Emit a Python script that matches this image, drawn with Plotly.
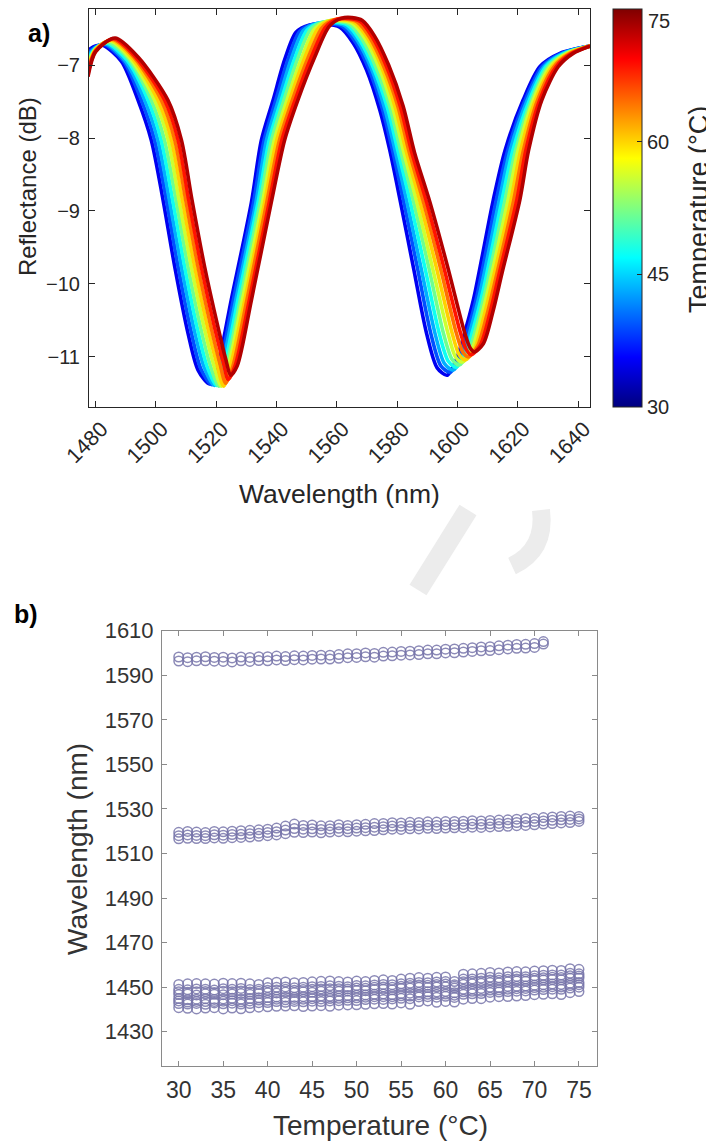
import plotly.graph_objects as go
from plotly.colors import sample_colorscale

# the page body adds an 8 px margin, so the figure is drawn 8 px smaller and
# every position below is given in page pixels and shifted back by OFF
W, H = 714, 1146
OFF = 8
FW, FH = W - OFF, H - OFF
FONT = "Liberation Sans, Arial, sans-serif"

# ---- a) reflection spectra (one curve every 5 °C) ----
SPEC_TEMPS = [30, 35, 40, 45, 50, 55, 60, 65, 70, 75]

WL_30 = [1477.5, 1480.0, 1482.5, 1488.6, 1494.1, 1498.5, 1502.4, 1506.3, 1510.7, 1514.0, 1517.8, 1520.5, 1525.0, 1531.7, 1535.0, 1538.9, 1542.7, 1546.5, 1551.0, 1556.0, 1561.0, 1565.5, 1569.9, 1574.3, 1577.6, 1581.0, 1585.4, 1589.8, 1593.3, 1596.6, 1599.8, 1602.0, 1605.3, 1611.9, 1615.8, 1621.8, 1627.4, 1634.0, 1644.0]
DB_30 = [-6.80, -6.74, -6.73, -6.95, -7.48, -8.03, -8.85, -9.77, -10.68, -11.18, -11.37, -11.12, -10.22, -8.88, -8.03, -7.48, -6.93, -6.55, -6.45, -6.44, -6.48, -6.70, -7.07, -7.62, -8.17, -8.85, -9.77, -10.68, -11.15, -11.25, -11.02, -10.73, -10.22, -8.85, -8.17, -7.48, -7.02, -6.84, -6.74]

WL_35 = [1477.5, 1480.0, 1482.9, 1489.2, 1495.2, 1499.6, 1503.5, 1507.4, 1511.8, 1515.0, 1518.6, 1521.2, 1525.7, 1532.4, 1535.9, 1539.8, 1543.8, 1547.7, 1552.2, 1557.0, 1561.8, 1566.3, 1570.7, 1575.2, 1578.5, 1582.1, 1586.7, 1591.2, 1594.5, 1597.6, 1600.8, 1603.1, 1606.4, 1612.9, 1616.7, 1622.5, 1628.1, 1634.5, 1644.0]
DB_35 = [-6.84, -6.75, -6.72, -6.94, -7.48, -8.03, -8.85, -9.77, -10.67, -11.17, -11.38, -11.12, -10.22, -8.88, -8.03, -7.48, -6.93, -6.54, -6.44, -6.43, -6.47, -6.69, -7.06, -7.61, -8.17, -8.85, -9.77, -10.68, -11.12, -11.21, -11.00, -10.69, -10.18, -8.85, -8.17, -7.48, -7.02, -6.84, -6.74]

WL_40 = [1477.5, 1480.0, 1483.4, 1489.8, 1496.3, 1500.7, 1504.5, 1508.5, 1512.9, 1516.1, 1519.4, 1521.9, 1526.5, 1533.2, 1536.7, 1540.7, 1544.9, 1548.9, 1553.3, 1558.0, 1562.7, 1567.1, 1571.5, 1576.0, 1579.4, 1583.2, 1587.9, 1592.6, 1595.7, 1598.6, 1601.8, 1604.2, 1607.4, 1613.9, 1617.5, 1623.2, 1628.8, 1635.0, 1644.0]
DB_40 = [-6.88, -6.76, -6.71, -6.94, -7.48, -8.03, -8.85, -9.77, -10.66, -11.15, -11.39, -11.12, -10.22, -8.88, -8.03, -7.48, -6.92, -6.53, -6.43, -6.42, -6.46, -6.68, -7.05, -7.61, -8.18, -8.86, -9.77, -10.68, -11.09, -11.18, -10.98, -10.65, -10.14, -8.85, -8.17, -7.48, -7.02, -6.84, -6.74]

WL_45 = [1477.5, 1480.0, 1483.8, 1490.4, 1497.4, 1501.8, 1505.6, 1509.6, 1514.0, 1517.1, 1520.1, 1522.7, 1527.2, 1533.9, 1537.6, 1541.6, 1546.0, 1550.2, 1554.5, 1559.0, 1563.5, 1567.8, 1572.3, 1576.9, 1580.3, 1584.3, 1589.2, 1594.0, 1597.0, 1599.6, 1602.7, 1605.3, 1608.5, 1614.8, 1618.4, 1623.9, 1629.4, 1635.5, 1644.0]
DB_45 = [-6.92, -6.77, -6.70, -6.93, -7.48, -8.03, -8.85, -9.77, -10.65, -11.14, -11.39, -11.12, -10.22, -8.88, -8.03, -7.48, -6.92, -6.52, -6.42, -6.41, -6.45, -6.67, -7.05, -7.60, -8.18, -8.86, -9.77, -10.68, -11.06, -11.14, -10.95, -10.61, -10.10, -8.85, -8.17, -7.48, -7.02, -6.84, -6.74]

WL_50 = [1477.5, 1480.0, 1484.3, 1491.0, 1498.5, 1502.9, 1506.7, 1510.7, 1515.1, 1518.1, 1520.9, 1523.4, 1528.0, 1534.6, 1538.4, 1542.5, 1547.1, 1551.4, 1555.7, 1560.0, 1564.3, 1568.6, 1573.1, 1577.7, 1581.2, 1585.4, 1590.5, 1595.4, 1598.2, 1600.6, 1603.7, 1606.4, 1609.5, 1615.8, 1619.3, 1624.6, 1630.1, 1636.0, 1644.0]
DB_50 = [-6.96, -6.78, -6.69, -6.92, -7.48, -8.03, -8.85, -9.77, -10.64, -11.12, -11.40, -11.12, -10.22, -8.88, -8.03, -7.48, -6.91, -6.51, -6.41, -6.40, -6.44, -6.66, -7.04, -7.59, -8.18, -8.86, -9.77, -10.68, -11.03, -11.11, -10.93, -10.57, -10.06, -8.85, -8.17, -7.48, -7.02, -6.84, -6.74]

WL_55 = [1477.5, 1480.0, 1484.7, 1491.7, 1499.6, 1504.1, 1507.7, 1511.8, 1516.2, 1519.2, 1521.7, 1524.1, 1528.7, 1535.4, 1539.3, 1543.5, 1548.3, 1552.6, 1556.8, 1561.0, 1565.2, 1569.4, 1574.0, 1578.6, 1582.2, 1586.5, 1591.7, 1596.9, 1599.4, 1601.6, 1604.7, 1607.5, 1610.6, 1616.8, 1620.1, 1625.2, 1630.8, 1636.4, 1644.0]
DB_55 = [-7.00, -6.78, -6.67, -6.92, -7.48, -8.03, -8.85, -9.77, -10.63, -11.11, -11.40, -11.12, -10.22, -8.88, -8.03, -7.48, -6.91, -6.51, -6.40, -6.39, -6.43, -6.64, -7.03, -7.59, -8.19, -8.87, -9.77, -10.68, -11.00, -11.07, -10.91, -10.52, -10.01, -8.85, -8.17, -7.48, -7.02, -6.84, -6.74]

WL_60 = [1477.5, 1480.0, 1485.2, 1492.3, 1500.7, 1505.2, 1508.8, 1512.9, 1517.3, 1520.2, 1522.5, 1524.8, 1529.5, 1536.1, 1540.1, 1544.4, 1549.4, 1553.8, 1558.0, 1562.0, 1566.0, 1570.2, 1574.8, 1579.4, 1583.1, 1587.6, 1593.0, 1598.3, 1600.6, 1602.6, 1605.7, 1608.6, 1611.6, 1617.8, 1621.0, 1625.9, 1631.5, 1636.9, 1644.0]
DB_60 = [-7.04, -6.79, -6.66, -6.91, -7.48, -8.03, -8.85, -9.77, -10.62, -11.09, -11.40, -11.12, -10.22, -8.88, -8.03, -7.48, -6.90, -6.50, -6.39, -6.38, -6.42, -6.63, -7.02, -7.58, -8.19, -8.87, -9.77, -10.68, -10.97, -11.04, -10.89, -10.48, -9.97, -8.85, -8.17, -7.48, -7.02, -6.84, -6.74]

WL_65 = [1477.5, 1480.0, 1485.6, 1492.9, 1501.8, 1506.3, 1509.9, 1514.0, 1518.4, 1521.2, 1523.2, 1525.6, 1530.2, 1536.8, 1541.0, 1545.3, 1550.5, 1555.1, 1559.2, 1563.0, 1566.8, 1570.9, 1575.6, 1580.3, 1584.0, 1588.7, 1594.3, 1599.7, 1601.9, 1603.6, 1606.6, 1609.7, 1612.7, 1618.7, 1621.9, 1626.6, 1632.1, 1637.4, 1644.0]
DB_65 = [-7.08, -6.80, -6.65, -6.90, -7.48, -8.03, -8.85, -9.77, -10.61, -11.08, -11.36, -11.12, -10.22, -8.88, -8.03, -7.48, -6.90, -6.49, -6.38, -6.37, -6.41, -6.62, -7.02, -7.57, -8.19, -8.87, -9.77, -10.68, -10.94, -11.00, -10.86, -10.44, -9.93, -8.85, -8.17, -7.48, -7.02, -6.84, -6.74]

WL_70 = [1477.5, 1480.0, 1486.1, 1493.5, 1502.9, 1507.4, 1510.9, 1515.1, 1519.5, 1522.3, 1524.0, 1526.3, 1531.0, 1537.6, 1541.8, 1546.2, 1551.6, 1556.3, 1560.3, 1564.0, 1567.7, 1571.7, 1576.4, 1581.1, 1584.9, 1589.8, 1595.5, 1601.1, 1603.1, 1604.6, 1607.6, 1610.8, 1613.7, 1619.7, 1622.7, 1627.3, 1632.8, 1637.9, 1644.0]
DB_70 = [-7.12, -6.81, -6.64, -6.90, -7.48, -8.03, -8.85, -9.77, -10.60, -11.06, -11.31, -11.12, -10.22, -8.88, -8.03, -7.48, -6.89, -6.48, -6.37, -6.36, -6.40, -6.61, -7.01, -7.57, -8.20, -8.88, -9.77, -10.68, -10.91, -10.97, -10.84, -10.40, -9.89, -8.85, -8.17, -7.48, -7.02, -6.84, -6.74]

WL_75 = [1477.5, 1480.0, 1486.5, 1494.1, 1504.0, 1508.5, 1512.0, 1516.2, 1520.6, 1523.3, 1524.8, 1527.0, 1531.7, 1538.3, 1542.7, 1547.1, 1552.7, 1557.5, 1561.5, 1565.0, 1568.5, 1572.5, 1577.2, 1582.0, 1585.8, 1590.9, 1596.8, 1602.5, 1604.3, 1605.6, 1608.6, 1611.9, 1614.8, 1620.7, 1623.6, 1628.0, 1633.5, 1638.4, 1644.0]
DB_75 = [-7.16, -6.82, -6.63, -6.89, -7.48, -8.03, -8.85, -9.77, -10.59, -11.05, -11.25, -11.12, -10.22, -8.88, -8.03, -7.48, -6.89, -6.47, -6.36, -6.35, -6.39, -6.60, -7.00, -7.56, -8.20, -8.88, -9.77, -10.68, -10.88, -10.93, -10.82, -10.36, -9.85, -8.85, -8.17, -7.48, -7.02, -6.84, -6.74]

# ---- b) dip wavelengths vs temperature ----
TEMPS_B = [30, 31, 32, 33, 34, 35, 36, 37, 38, 39, 40, 41, 42, 43, 44, 45, 46, 47, 48, 49, 50, 51, 52,
           53, 54, 55, 56, 57, 58, 59, 60, 61, 62, 63, 64, 65, 66, 67, 68, 69, 70, 71, 72, 73, 74, 75]

# ~1597 nm dip (only up to 71 °C)
TOP_HI = [1598.2, 1597.9, 1598.1, 1598.3, 1598.0, 1598.1, 1597.8, 1598.2, 1598.0, 1598.3, 1598.3, 1598.6, 1598.4, 1598.7,
          1598.6, 1598.9, 1599.0, 1599.0, 1599.3, 1599.6, 1599.7, 1600.0, 1599.8, 1600.3, 1600.4, 1600.7, 1600.8, 1601.0,
          1601.3, 1601.3, 1601.7, 1601.8, 1602.1, 1602.4, 1602.7, 1602.8, 1603.2, 1603.5, 1603.8, 1603.9, 1604.2, 1605.1]
TOP_LO = [1596.4, 1596.1, 1596.5, 1596.5, 1596.3, 1596.2, 1596.0, 1596.5, 1596.2, 1596.6, 1596.5, 1596.9, 1596.6, 1597.0,
          1596.9, 1597.2, 1597.3, 1597.3, 1597.6, 1597.9, 1598.0, 1598.3, 1598.1, 1598.6, 1598.7, 1599.0, 1599.1, 1599.3,
          1599.6, 1599.6, 1600.0, 1600.1, 1600.4, 1600.7, 1601.0, 1601.1, 1601.5, 1601.8, 1602.1, 1602.2, 1602.5, 1604.0]

# ~1520 nm dip
MID_HI = [1519.5, 1519.9, 1519.6, 1519.4, 1519.9, 1519.7, 1520.0, 1520.2, 1520.4, 1520.6, 1520.9, 1521.4, 1522.3, 1523.2,
          1522.6, 1522.8, 1522.4, 1522.5, 1522.9, 1522.6, 1522.9, 1523.1, 1523.4, 1523.5, 1523.8, 1523.7, 1524.0, 1523.9,
          1524.2, 1524.1, 1524.3, 1524.4, 1524.5, 1524.7, 1524.6, 1524.8, 1525.0, 1525.1, 1525.4, 1525.7, 1525.8, 1526.1,
          1526.4, 1526.6, 1526.8, 1526.6]
MID_C = [1518.0, 1518.3, 1518.1, 1518.0, 1518.4, 1518.2, 1518.5, 1518.6, 1518.9, 1519.1, 1519.4, 1519.8, 1520.5, 1521.2,
         1520.9, 1521.1, 1520.8, 1521.0, 1521.3, 1521.1, 1521.4, 1521.6, 1521.8, 1522.0, 1522.3, 1522.2, 1522.5, 1522.4,
         1522.7, 1522.6, 1522.8, 1522.9, 1523.0, 1523.2, 1523.1, 1523.3, 1523.5, 1523.6, 1523.9, 1524.1, 1524.3, 1524.6,
         1524.9, 1525.1, 1525.3, 1525.5]
MID_LO = [1516.6, 1516.8, 1516.7, 1516.7, 1517.0, 1516.8, 1517.1, 1517.2, 1517.4, 1517.7, 1518.0, 1518.3, 1518.9, 1519.5,
          1519.4, 1519.6, 1519.3, 1519.6, 1519.8, 1519.7, 1520.0, 1520.2, 1520.3, 1520.6, 1520.9, 1520.8, 1521.1, 1521.0,
          1521.3, 1521.2, 1521.4, 1521.5, 1521.6, 1521.8, 1521.7, 1521.9, 1522.1, 1522.2, 1522.5, 1522.6, 1522.9, 1523.2,
          1523.4, 1523.7, 1523.9, 1524.4]

# ~1447 nm dip, several repeated readings per temperature (one row per entry of TEMPS_B)
LOW_BAND = [
    [1440.8, 1442.6, 1443.8, 1444.9, 1446.7, 1447.9, 1449.0, 1451.2],
    [1440.5, 1442.4, 1443.3, 1444.3, 1446.9, 1447.7, 1448.8, 1451.5],
    [1440.2, 1442.7, 1443.6, 1444.6, 1446.5, 1447.9, 1449.2, 1451.6],
    [1440.6, 1442.3, 1443.5, 1444.8, 1447.0, 1448.0, 1449.1, 1451.5],
    [1440.8, 1442.9, 1443.6, 1444.5, 1446.8, 1447.6, 1448.7, 1451.4],
    [1440.2, 1442.5, 1443.7, 1444.7, 1446.6, 1448.1, 1449.3, 1451.8],
    [1440.6, 1442.8, 1443.9, 1445.0, 1446.9, 1447.9, 1449.0, 1451.6],
    [1440.3, 1442.4, 1443.4, 1444.6, 1447.1, 1448.3, 1449.4, 1451.8],
    [1440.7, 1442.6, 1443.8, 1444.9, 1446.8, 1447.8, 1448.9, 1451.5],
    [1441.0, 1443.0, 1444.2, 1445.2, 1447.2, 1448.1, 1449.1, 1451.2],
    [1441.2, 1443.1, 1444.1, 1445.3, 1447.5, 1448.6, 1449.8, 1452.0],
    [1441.4, 1443.5, 1444.6, 1445.6, 1447.4, 1448.7, 1449.9, 1452.2],
    [1441.5, 1443.2, 1444.3, 1445.5, 1447.8, 1449.0, 1450.1, 1452.3],
    [1441.6, 1443.6, 1444.5, 1445.4, 1447.6, 1448.6, 1449.7, 1452.0],
    [1441.3, 1443.4, 1444.6, 1445.7, 1447.9, 1448.9, 1450.0, 1452.1],
    [1441.5, 1443.7, 1444.8, 1445.8, 1447.7, 1449.0, 1450.2, 1452.4],
    [1441.7, 1443.5, 1444.7, 1446.0, 1448.1, 1449.2, 1450.3, 1452.6],
    [1441.4, 1443.8, 1444.9, 1445.9, 1448.0, 1449.3, 1450.6, 1452.8],
    [1441.9, 1443.9, 1445.0, 1446.1, 1448.2, 1449.3, 1450.4, 1452.5],
    [1442.0, 1444.1, 1445.2, 1446.3, 1448.3, 1449.2, 1450.2, 1452.3],
    [1442.1, 1444.0, 1445.2, 1446.4, 1448.5, 1449.6, 1450.7, 1452.7],
    [1442.3, 1444.4, 1445.5, 1446.5, 1448.4, 1449.5, 1450.6, 1452.5],
    [1442.5, 1444.6, 1445.7, 1446.8, 1448.9, 1449.9, 1451.0, 1453.0],
    [1442.6, 1444.5, 1445.7, 1446.9, 1449.1, 1450.1, 1451.2, 1453.3],
    [1442.4, 1444.7, 1445.7, 1446.7, 1448.8, 1450.0, 1451.1, 1453.0],
    [1442.9, 1445.0, 1446.1, 1447.2, 1449.4, 1450.4, 1451.5, 1453.6],
    [1442.3, 1444.8, 1446.0, 1447.3, 1449.6, 1450.7, 1451.8, 1454.0],
    [1443.5, 1445.6, 1446.6, 1447.7, 1449.9, 1451.0, 1452.1, 1454.3],
    [1443.8, 1445.7, 1446.8, 1447.9, 1449.8, 1450.9, 1452.0, 1454.0],
    [1443.2, 1445.5, 1446.7, 1447.8, 1450.1, 1451.2, 1452.3, 1454.4],
    [1443.6, 1445.9, 1446.9, 1448.0, 1450.2, 1451.4, 1452.5, 1454.6],
    [1443.3, 1445.4, 1446.4, 1447.5, 1449.6, 1450.4, 1451.1, 1452.5],
    [1444.6, 1446.8, 1447.9, 1449.0, 1451.3, 1452.4, 1453.6, 1455.8],
    [1444.9, 1447.0, 1448.1, 1449.2, 1451.5, 1452.6, 1453.7, 1456.0],
    [1444.8, 1447.1, 1448.2, 1449.4, 1451.7, 1452.8, 1454.0, 1456.2],
    [1445.5, 1447.6, 1448.7, 1449.9, 1452.1, 1453.2, 1454.4, 1456.6],
    [1445.7, 1447.8, 1448.8, 1449.8, 1452.0, 1453.1, 1454.2, 1456.4],
    [1445.8, 1448.0, 1449.1, 1450.3, 1452.4, 1453.5, 1454.7, 1456.8],
    [1446.0, 1448.2, 1449.3, 1450.4, 1452.7, 1453.7, 1454.8, 1457.0],
    [1446.2, 1448.3, 1449.4, 1450.5, 1452.6, 1453.6, 1454.7, 1456.9],
    [1446.6, 1448.7, 1449.8, 1450.9, 1453.0, 1454.0, 1455.1, 1457.2],
    [1446.8, 1448.9, 1450.0, 1451.1, 1453.2, 1454.2, 1455.3, 1457.4],
    [1447.0, 1449.1, 1450.2, 1451.4, 1453.4, 1454.4, 1455.5, 1457.6],
    [1446.7, 1449.0, 1450.1, 1451.2, 1453.3, 1454.3, 1455.4, 1457.5],
    [1447.5, 1449.6, 1450.7, 1451.8, 1454.0, 1455.1, 1456.2, 1458.3],
    [1448.0, 1450.0, 1451.1, 1452.1, 1454.1, 1455.0, 1456.0, 1458.0],
]

# MATLAB-like jet
JET = [[0.0, "rgb(0,0,127)"], [0.125, "rgb(0,0,255)"], [0.375, "rgb(0,255,255)"],
       [0.625, "rgb(255,255,0)"], [0.875, "rgb(255,0,0)"], [1.0, "rgb(127,0,0)"]]


def px_x(p):
    return (p - OFF) / FW


def px_y(p):
    return 1 - (p - OFF) / FH


fig = go.Figure()

spectra = [(30, WL_30, DB_30), (35, WL_35, DB_35), (40, WL_40, DB_40), (45, WL_45, DB_45),
           (50, WL_50, DB_50), (55, WL_55, DB_55), (60, WL_60, DB_60), (65, WL_65, DB_65),
           (70, WL_70, DB_70), (75, WL_75, DB_75)]

for t, wl, db in spectra:
    frac = 0.11 + 0.84 * (t - 30) / 45
    col = sample_colorscale(JET, [frac])[0]
    fig.add_trace(go.Scatter(
        x=wl, y=db, mode="lines",
        line=dict(color=col, width=3.6, shape="spline", smoothing=0.8),
        xaxis="x", yaxis="y", showlegend=False, hoverinfo="skip",
    ))

# colorbar carrier (points sit outside the axis range)
fig.add_trace(go.Scatter(
    x=[1500, 1500], y=[-20, -20], mode="markers", xaxis="x", yaxis="y",
    marker=dict(
        color=[SPEC_TEMPS[0], SPEC_TEMPS[-1]], cmin=30, cmax=75, colorscale=JET, showscale=True,
        colorbar=dict(
            x=px_x(613), xanchor="left", xpad=0, y=px_y(9), yanchor="top", ypad=0,
            len=398 / FH, lenmode="fraction", thickness=29, thicknessmode="pixels",
            outlinewidth=1, outlinecolor="#262626",
            tickvals=[30, 45, 60, 75], ticktext=["30", "45", "60", ""],
            ticks="inside", ticklen=5, tickcolor="#262626",
            tickfont=dict(size=20, color="#262626", family=FONT),
        ),
    ),
    showlegend=False, hoverinfo="skip",
))

# panel b points
bx, by = [], []
for i, t in enumerate(TEMPS_B):
    if i < len(TOP_HI):
        bx += [t, t]
        by += [TOP_HI[i], TOP_LO[i]]
    bx += [t, t, t]
    by += [MID_HI[i], MID_C[i], MID_LO[i]]
    for v in LOW_BAND[i]:
        bx.append(t)
        by.append(v)

fig.add_trace(go.Scatter(
    x=bx, y=by, mode="markers", xaxis="x2", yaxis="y2",
    marker=dict(symbol="circle-open", size=9.5, color="rgba(120,117,170,0.85)", line=dict(width=1.5)),
    showlegend=False, hoverinfo="skip",
))

axis_a = dict(showgrid=False, zeroline=False, showline=True, linecolor="#262626", linewidth=1,
              mirror="ticks", ticks="inside", ticklen=6, tickcolor="#262626", automargin=False,
              tickfont=dict(size=20, color="#262626", family=FONT))
axis_b = dict(showgrid=False, zeroline=False, showline=True, linecolor="#8a8a8a", linewidth=1,
              mirror="ticks", ticks="inside", ticklen=5, tickcolor="#8a8a8a", automargin=False,
              tickfont=dict(size=22, color="#333333", family=FONT))

fig.update_layout(
    width=FW, height=FH, margin=dict(l=0, r=0, t=0, b=0, autoexpand=False),
    paper_bgcolor="white", plot_bgcolor="white",
    font=dict(family=FONT, color="#262626"),
    xaxis=dict(axis_a, domain=[px_x(89), px_x(590)], anchor="y", range=[1477.84, 1643.98],
               tickvals=[1480, 1500, 1520, 1540, 1560, 1580, 1600, 1620, 1640], tickangle=-45,
               tickfont=dict(size=21.5, color="#262626", family=FONT), ticklabelshift=6),
    yaxis=dict(axis_a, domain=[px_y(407), px_y(9)], anchor="x", range=[-11.686, -6.232],
               tickvals=[-11, -10, -9, -8, -7], ticklabelstandoff=4),
    xaxis2=dict(axis_b, domain=[px_x(162), px_x(596.5)], anchor="y2", range=[28.12, 76.97],
                tickvals=[30, 35, 40, 45, 50, 55, 60, 65, 70, 75], ticklabelstandoff=3,
                tickfont=dict(size=23, color="#333333", family=FONT)),
    yaxis2=dict(axis_b, domain=[px_y(1066), px_y(630.7)], anchor="x2", range=[1414.6, 1610],
                tickvals=[1430, 1450, 1470, 1490, 1510, 1530, 1550, 1570, 1590, 1610],
                ticklabelstandoff=3),
)


def label(text, x, y, size, angle=0, bold=False, color="#262626", anchor="center"):
    fig.add_annotation(
        text=f"<b>{text}</b>" if bold else text, x=px_x(x), y=px_y(y), xref="paper", yref="paper",
        xanchor=anchor, yanchor="middle", showarrow=False, textangle=angle,
        font=dict(size=size, color=color if not bold else "#000000", family=FONT),
    )


label("a)", 39, 33, 25, bold=True)
label("b)", 26, 614, 25, bold=True)
label("Reflectance (dB)", 27, 187, 24, angle=-90)
label("Wavelength (nm)", 339, 494, 26.5)
label("Temperature (°C)", 699, 210, 27, angle=-90)
label("Wavelength (nm)", 77, 849, 28, angle=-90, color="#333333")
label("Temperature (°C)", 380, 1125, 28, color="#333333")
# top colorbar label: the tick label itself would fall above the page edge
label("75", 646, 21, 20, anchor="left")

# faint watermark fragments between the panels
fig.add_shape(type="path", xref="paper", yref="paper", layer="below",
              path=f"M {px_x(468)},{px_y(510)} L {px_x(418)},{px_y(590)}",
              line=dict(color="#ececec", width=20))
fig.add_shape(type="path", xref="paper", yref="paper", layer="below",
              path=(f"M {px_x(541)},{px_y(510)} Q {px_x(546)},{px_y(550)} {px_x(512)},{px_y(566)}"),
              line=dict(color="#ececec", width=18))

fig.write_html("out.html")
